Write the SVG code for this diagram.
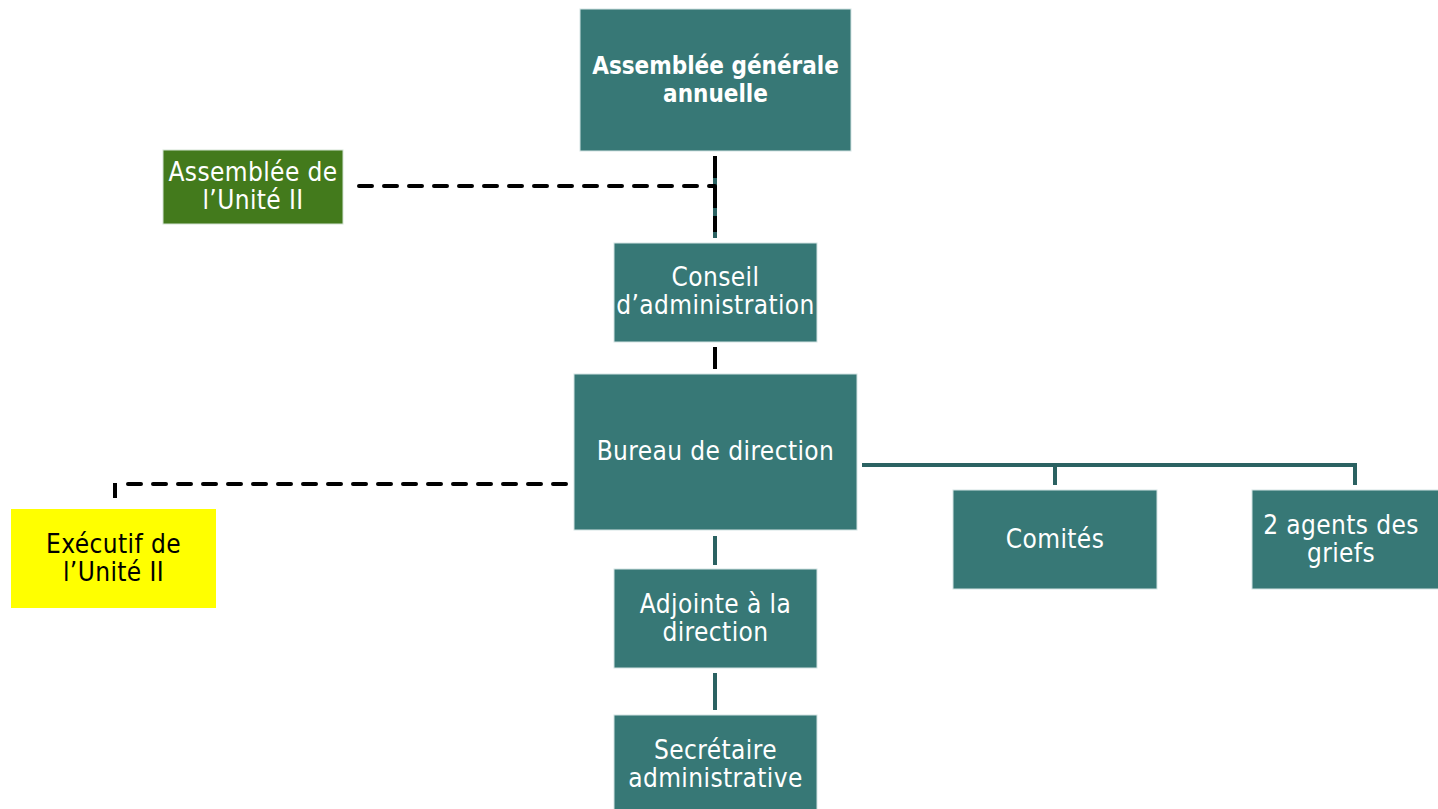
<svg xmlns="http://www.w3.org/2000/svg" width="1438" height="809" viewBox="0 0 1438 809">
<style>
.box{fill:#377876;stroke:#d4e3e3;stroke-width:1}
.t{font-family:"DejaVu Sans Condensed","DejaVu Sans",sans-serif;font-stretch:condensed;font-size:26px;letter-spacing:0.4px;fill:#ffffff;text-anchor:middle}
.b{font-weight:bold;font-size:24px;letter-spacing:0}
.k{fill:#000000}
.solid{stroke:#2b6262;stroke-width:4;fill:none}
.dash{stroke:#000000;stroke-width:4;fill:none;stroke-dasharray:13,12;stroke-linecap:round}
</style>
<rect width="1438" height="809" fill="#ffffff"/>
<g id="connectors">
<line class="solid" x1="715" y1="156" x2="715" y2="238"/>
<line x1="715" y1="156" x2="715" y2="232" stroke="#000" stroke-width="4" stroke-dasharray="22,8"/>
<line class="dash" x1="359" y1="186" x2="715" y2="186"/>
<line x1="715" y1="347" x2="715" y2="369" stroke="#000" stroke-width="4"/>
<line class="dash" x1="128" y1="484" x2="570" y2="484"/>
<line x1="115" y1="483" x2="115" y2="498" stroke="#000" stroke-width="4"/>
<polyline class="solid" points="862,465 1355,465 1355,485"/>
<line class="solid" x1="1055" y1="465" x2="1055" y2="485"/>
<line class="solid" x1="715" y1="536" x2="715" y2="565"/>
<line class="solid" x1="715" y1="673" x2="715" y2="710"/>
</g>
<g id="agm">
<rect class="box" x="580" y="9" width="271" height="142"/>
<text class="t b" x="715.5" y="74">Assemblée générale</text>
<text class="t b" x="715.5" y="102">annuelle</text>
</g>
<g id="assemblee-unite">
<rect x="163" y="150" width="180" height="74" fill="#437a1c" stroke="#d4e3d4" stroke-width="1"/>
<text class="t" x="253" y="181">Assemblée de</text>
<text class="t" x="253" y="209">l’Unité II</text>
</g>
<g id="conseil">
<rect class="box" x="614" y="243" width="203" height="99"/>
<text class="t" x="715.5" y="286">Conseil</text>
<text class="t" x="715.5" y="314">d’administration</text>
</g>
<g id="bureau">
<rect class="box" x="574" y="374" width="283" height="156"/>
<text class="t" x="715.5" y="460">Bureau de direction</text>
</g>
<g id="executif">
<rect x="11" y="509" width="205" height="99" fill="#ffff00"/>
<text class="t k" x="113.5" y="553">Exécutif de</text>
<text class="t k" x="113.5" y="581">l’Unité II</text>
</g>
<g id="comites">
<rect class="box" x="953" y="490" width="204" height="99"/>
<text class="t" x="1055" y="548">Comités</text>
</g>
<g id="agents">
<rect class="box" x="1252" y="490" width="190" height="99"/>
<text class="t" x="1341" y="534">2 agents des</text>
<text class="t" x="1341" y="562">griefs</text>
</g>
<g id="adjointe">
<rect class="box" x="614" y="569" width="203" height="99"/>
<text class="t" x="715.5" y="613">Adjointe à la</text>
<text class="t" x="715.5" y="641">direction</text>
</g>
<g id="secretaire">
<rect class="box" x="614" y="715" width="203" height="99"/>
<text class="t" x="715.5" y="759">Secrétaire</text>
<text class="t" x="715.5" y="787">administrative</text>
</g>
</svg>
